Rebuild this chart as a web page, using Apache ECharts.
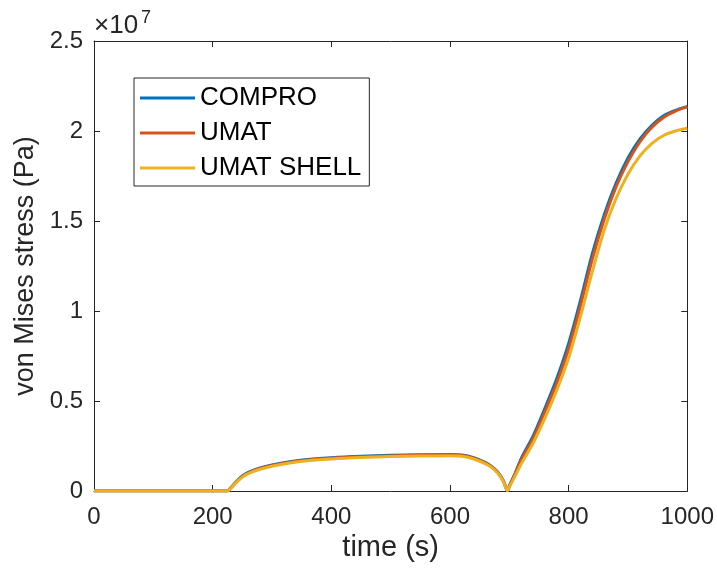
<!DOCTYPE html>
<html>
<head>
<meta charset="utf-8">
<script src="https://cdn.jsdelivr.net/npm/echarts@6/dist/echarts.min.js"></script>
<style>
  html, body { margin: 0; padding: 0; background: #fff; }
  #chart { width: 717px; height: 575px; }
</style>
</head>
<body>
<div id="chart"></div>
<script>
// time (s)
const times = [0, 225, 230, 240, 250, 260, 280, 300, 330, 360, 400, 450, 500, 550, 600, 620, 640, 660, 670, 680, 690, 697, 700, 710, 720, 740, 760, 780, 800, 820, 840, 860, 880, 900, 920, 940, 960, 980, 1000];

// von Mises stress, in units of 1e7 Pa
const compro = [0, 0, 0.016, 0.052, 0.083, 0.103, 0.128, 0.145, 0.163, 0.175, 0.185, 0.193, 0.198, 0.201, 0.203, 0.200, 0.185, 0.158, 0.137, 0.107, 0.057, 0.002, 0.028, 0.100, 0.180, 0.305, 0.460, 0.625, 0.820, 1.060, 1.320, 1.535, 1.710, 1.850, 1.955, 2.030, 2.085, 2.115, 2.135];
const umat   = [0, 0, 0.015, 0.050, 0.080, 0.100, 0.125, 0.142, 0.160, 0.172, 0.182, 0.190, 0.195, 0.198, 0.200, 0.197, 0.182, 0.155, 0.135, 0.105, 0.055, 0.002, 0.025, 0.095, 0.170, 0.290, 0.440, 0.600, 0.790, 1.030, 1.290, 1.510, 1.690, 1.830, 1.940, 2.020, 2.075, 2.110, 2.135];
const shell  = [0, 0, 0.014, 0.048, 0.077, 0.097, 0.121, 0.138, 0.156, 0.168, 0.178, 0.186, 0.191, 0.194, 0.196, 0.193, 0.178, 0.151, 0.131, 0.101, 0.052, 0.002, 0.022, 0.085, 0.150, 0.265, 0.405, 0.560, 0.740, 0.970, 1.220, 1.450, 1.625, 1.760, 1.860, 1.930, 1.975, 2.000, 2.015];

const xTicks = [0, 200, 400, 600, 800, 1000];
const yTicks = [0, 0.5, 1, 1.5, 2, 2.5];

const seriesNames = ['COMPRO', 'UMAT', 'UMAT SHELL'];
const seriesColors = ['#0072BD', '#D95319', '#EDB120'];
const seriesData = [compro, umat, shell];

const font = 'Liberation Sans, Arial, sans-serif';
const ink = '#262626';

const chart = echarts.init(document.getElementById('chart'), null, { renderer: 'canvas' });

const axisCommon = {
  axisLine: { show: true, onZero: false, lineStyle: { color: ink, width: 1 } },
  axisTick: { show: true, inside: true, length: 6, lineStyle: { color: ink } },
  splitLine: { show: false },
};

const options = {
  animation: false,
  backgroundColor: '#fff',
  grid: { left: 94, right: 29, top: 41, bottom: 84 },
  legend: {
    orient: 'vertical',
    left: 134,
    top: 78,
    icon: 'rect',
    itemWidth: 55,
    itemHeight: 3,
    itemGap: 5,
    padding: [5, 8, 3, 6],
    borderColor: ink,
    borderWidth: 1,
    backgroundColor: '#fff',
    textStyle: { fontFamily: font, fontSize: 26, color: '#000', lineHeight: 30 },
    data: seriesNames,
  },
  xAxis: [
    {
      ...axisCommon,
      type: 'value',
      min: xTicks[0],
      max: xTicks[xTicks.length - 1],
      interval: 200,
      name: 'time (s)',
      nameLocation: 'middle',
      nameGap: 42,
      nameTextStyle: { fontFamily: font, fontSize: 29, color: ink },
      axisLabel: { fontFamily: font, fontSize: 24, color: ink, margin: 14, formatter: v => String(v) },
    },
    {
      ...axisCommon,
      type: 'value',
      position: 'top',
      min: xTicks[0],
      max: xTicks[xTicks.length - 1],
      interval: 200,
      axisLabel: { show: false },
    },
  ],
  yAxis: [
    {
      ...axisCommon,
      type: 'value',
      min: yTicks[0],
      max: yTicks[yTicks.length - 1],
      interval: 0.5,
      name: 'von Mises stress (Pa)',
      nameLocation: 'middle',
      nameGap: 46,
      nameTextStyle: { fontFamily: font, fontSize: 27, color: ink },
      axisLabel: { fontFamily: font, fontSize: 24, color: ink, margin: 11, formatter: v => String(v) },
    },
    {
      ...axisCommon,
      type: 'value',
      position: 'right',
      min: yTicks[0],
      max: yTicks[yTicks.length - 1],
      interval: 0.5,
      axisLabel: { show: false },
    },
  ],
  graphic: [
    {
      type: 'text',
      left: 94,
      top: 13,
      style: { text: '×10', fontFamily: font, fontSize: 26, fill: ink },
    },
    {
      type: 'text',
      left: 141,
      top: 9,
      style: { text: '7', fontFamily: font, fontSize: 18, fill: ink },
    },
  ],
  series: seriesNames.map((name, i) => ({
    name,
    type: 'line',
    data: times.map((t, j) => [t, seriesData[i][j]]),
    showSymbol: false,
    smooth: 0.3,
    lineStyle: { color: seriesColors[i], width: 3 },
    itemStyle: { color: seriesColors[i] },
  })),
};

chart.setOption(options);
</script>
</body>
</html>
